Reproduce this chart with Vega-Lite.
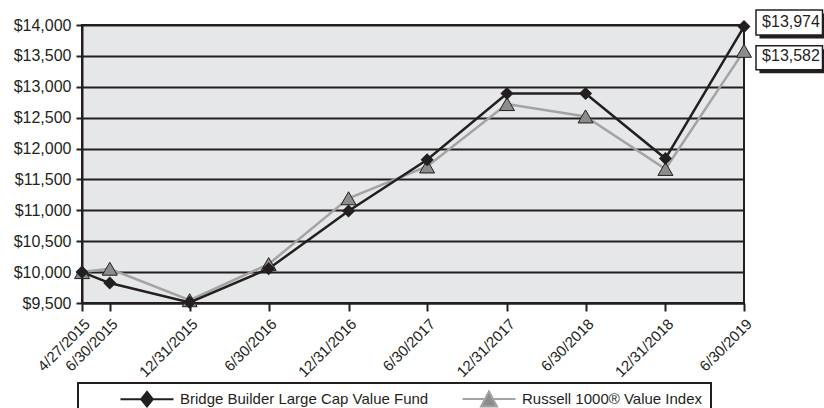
{
  "$schema": "https://vega.github.io/schema/vega-lite/v6.json",
  "width": 662,
  "height": 278,
  "autosize": {"type": "none"},
  "padding": {"left": 82, "top": 25, "right": 80, "bottom": 105},
  "background": "white",
  "config": {
    "font": "Liberation Sans",
    "view": {"fill": "#e6e7e8", "stroke": "#231f20", "strokeWidth": 2},
    "axis": {
      "labelFont": "Liberation Sans",
      "labelColor": "#231f20",
      "tickColor": "#231f20",
      "tickWidth": 2,
      "domainColor": "#231f20",
      "domainWidth": 2,
      "title": null
    }
  },
  "data": {
    "values": [
      {"date": "2015-04-27", "series": "Bridge Builder Large Cap Value Fund", "value": 10000},
      {"date": "2015-06-30", "series": "Bridge Builder Large Cap Value Fund", "value": 9823},
      {"date": "2015-12-31", "series": "Bridge Builder Large Cap Value Fund", "value": 9510},
      {"date": "2016-06-30", "series": "Bridge Builder Large Cap Value Fund", "value": 10055},
      {"date": "2016-12-31", "series": "Bridge Builder Large Cap Value Fund", "value": 10990},
      {"date": "2017-06-30", "series": "Bridge Builder Large Cap Value Fund", "value": 11820},
      {"date": "2017-12-31", "series": "Bridge Builder Large Cap Value Fund", "value": 12890},
      {"date": "2018-06-30", "series": "Bridge Builder Large Cap Value Fund", "value": 12890},
      {"date": "2018-12-31", "series": "Bridge Builder Large Cap Value Fund", "value": 11838},
      {"date": "2019-06-30", "series": "Bridge Builder Large Cap Value Fund", "value": 13974},
      {"date": "2015-04-27", "series": "Russell 1000® Value Index", "value": 10000},
      {"date": "2015-06-30", "series": "Russell 1000® Value Index", "value": 10055},
      {"date": "2015-12-31", "series": "Russell 1000® Value Index", "value": 9545},
      {"date": "2016-06-30", "series": "Russell 1000® Value Index", "value": 10130},
      {"date": "2016-12-31", "series": "Russell 1000® Value Index", "value": 11195},
      {"date": "2017-06-30", "series": "Russell 1000® Value Index", "value": 11710},
      {"date": "2017-12-31", "series": "Russell 1000® Value Index", "value": 12720},
      {"date": "2018-06-30", "series": "Russell 1000® Value Index", "value": 12520},
      {"date": "2018-12-31", "series": "Russell 1000® Value Index", "value": 11670},
      {"date": "2019-06-30", "series": "Russell 1000® Value Index", "value": 13582}
    ]
  },
  "encoding": {
    "x": {
      "field": "date",
      "type": "temporal",
      "scale": {"type": "utc", "nice": false},
      "axis": {
        "values": [
          {"year": 2015, "month": 4, "date": 27, "utc": true},
          {"year": 2015, "month": 6, "date": 30, "utc": true},
          {"year": 2015, "month": 12, "date": 31, "utc": true},
          {"year": 2016, "month": 6, "date": 30, "utc": true},
          {"year": 2016, "month": 12, "date": 31, "utc": true},
          {"year": 2017, "month": 6, "date": 30, "utc": true},
          {"year": 2017, "month": 12, "date": 31, "utc": true},
          {"year": 2018, "month": 6, "date": 30, "utc": true},
          {"year": 2018, "month": 12, "date": 31, "utc": true},
          {"year": 2019, "month": 6, "date": 30, "utc": true}
        ],
        "format": "%-m/%-d/%Y",
        "labelAngle": -45,
        "labelFontSize": 15,
        "labelPadding": 5,
        "labelOverlap": false,
        "labelFlush": false,
        "tickSize": 8,
        "grid": false
      }
    },
    "y": {
      "field": "value",
      "type": "quantitative",
      "scale": {"domain": [9500, 14000], "nice": false, "zero": false},
      "axis": {
        "values": [9500, 10000, 10500, 11000, 11500, 12000, 12500, 13000, 13500, 14000],
        "format": "$,.0f",
        "labelFontSize": 16,
        "labelPadding": 5,
        "tickSize": 6,
        "grid": true,
        "gridColor": "#231f20",
        "gridWidth": 2,
        "gridOpacity": 1
      }
    }
  },
  "layer": [
    {
      "transform": [{"filter": "datum.series === 'Russell 1000® Value Index'"}],
      "mark": {"type": "line", "strokeWidth": 2.5},
      "encoding": {
        "color": {
          "field": "series",
          "type": "nominal",
          "scale": {
            "domain": ["Bridge Builder Large Cap Value Fund", "Russell 1000® Value Index"],
            "range": ["#231f20", "#a3a3a3"]
          },
          "legend": {
            "orient": "none",
            "legendX": -4,
            "legendY": 358,
            "direction": "horizontal",
            "title": null,
            "padding": 8.5,
            "strokeColor": "#231f20",
            "fillColor": "white",
            "symbolSize": 144,
            "symbolStrokeWidth": 2,
            "symbolOffset": 53,
            "labelOffset": 25.5,
            "columnPadding": 0,
            "labelFont": "Liberation Sans",
            "labelFontSize": 15,
            "labelColor": "#231f20",
            "labelLimit": 0,
            "labelExpr": "datum.label === 'Russell 1000® Value Index' ? datum.label + '\u00a0\u00a0\u00a0\u00a0\u00a0\u00a0\u00a0\u00a0' : datum.label",
            "encode": {
              "symbols": {
                "update": {
                  "shape": {"signal": "datum.value === 'Bridge Builder Large Cap Value Fund' ? 'M-4.42,0H-0.97M0,-1.2L0.97,0L0,1.2L-0.97,0ZM0.97,0H4.42' : 'M-4.42,0H-0.68M0,-1.27L1.33,1.23H-1.33ZM0.68,0H4.42'"},
                  "fill": {"signal": "datum.value === 'Bridge Builder Large Cap Value Fund' ? '#231f20' : '#8c8c8c'"},
                  "stroke": {"signal": "datum.value === 'Bridge Builder Large Cap Value Fund' ? '#231f20' : '#a3a3a3'"},
                  "strokeWidth": {"value": 2},
                  "opacity": {"value": 1},
                  "fillOpacity": {"value": 1},
                  "strokeOpacity": {"value": 1}
                }
              },
              "legend": {"update": {"strokeWidth": {"value": 2}}}
            }
          }
        }
      }
    },
    {
      "transform": [{"filter": "datum.series === 'Bridge Builder Large Cap Value Fund'"}],
      "mark": {"type": "line", "strokeWidth": 2.5},
      "encoding": {"color": {"field": "series", "type": "nominal"}}
    },
    {
      "transform": [{"filter": "datum.series === 'Russell 1000® Value Index'"}],
      "mark": {"type": "point", "shape": "triangle-up", "size": 225, "filled": true, "fill": "#8c8c8c", "stroke": "#231f20", "strokeWidth": 1, "opacity": 1}
    },
    {
      "transform": [{"filter": "datum.series === 'Bridge Builder Large Cap Value Fund'"}],
      "mark": {"type": "point", "shape": "diamond", "size": 170, "filled": true, "fill": "#231f20", "opacity": 1}
    },
    {
      "transform": [{"filter": "utcyear(datum.date) === 2019 && datum.series === 'Bridge Builder Large Cap Value Fund'"}],
      "mark": {"type": "rect", "fill": "#231f20", "xOffset": 15.5, "x2Offset": 82, "yOffset": -13, "y2Offset": 12},
      "encoding": {"x2": {"field": "date"}, "y2": {"field": "value"}}
    },
    {
      "transform": [{"filter": "utcyear(datum.date) === 2019 && datum.series === 'Bridge Builder Large Cap Value Fund'"}],
      "mark": {"type": "rect", "fill": "white", "stroke": "#231f20", "strokeWidth": 1.5, "xOffset": 12, "x2Offset": 78.5, "yOffset": -16.5, "y2Offset": 8.5},
      "encoding": {"x2": {"field": "date"}, "y2": {"field": "value"}}
    },
    {
      "transform": [{"filter": "utcyear(datum.date) === 2019 && datum.series === 'Bridge Builder Large Cap Value Fund'"}],
      "mark": {"type": "text", "align": "center", "baseline": "middle", "dx": 47, "dy": -4.6, "fontSize": 16, "font": "Liberation Sans", "color": "#231f20"},
      "encoding": {"text": {"field": "value", "type": "quantitative", "format": "$,.0f"}}
    },
    {
      "transform": [{"filter": "utcyear(datum.date) === 2019 && datum.series === 'Russell 1000® Value Index'"}],
      "mark": {"type": "rect", "fill": "#231f20", "xOffset": 15.5, "x2Offset": 82, "yOffset": -1.5, "y2Offset": 22.5},
      "encoding": {"x2": {"field": "date"}, "y2": {"field": "value"}}
    },
    {
      "transform": [{"filter": "utcyear(datum.date) === 2019 && datum.series === 'Russell 1000® Value Index'"}],
      "mark": {"type": "rect", "fill": "white", "stroke": "#231f20", "strokeWidth": 1.5, "xOffset": 12, "x2Offset": 78.5, "yOffset": -5, "y2Offset": 19},
      "encoding": {"x2": {"field": "date"}, "y2": {"field": "value"}}
    },
    {
      "transform": [{"filter": "utcyear(datum.date) === 2019 && datum.series === 'Russell 1000® Value Index'"}],
      "mark": {"type": "text", "align": "center", "baseline": "middle", "dx": 47, "dy": 4.7, "fontSize": 16, "font": "Liberation Sans", "color": "#231f20"},
      "encoding": {"text": {"field": "value", "type": "quantitative", "format": "$,.0f"}}
    }
  ]
}
